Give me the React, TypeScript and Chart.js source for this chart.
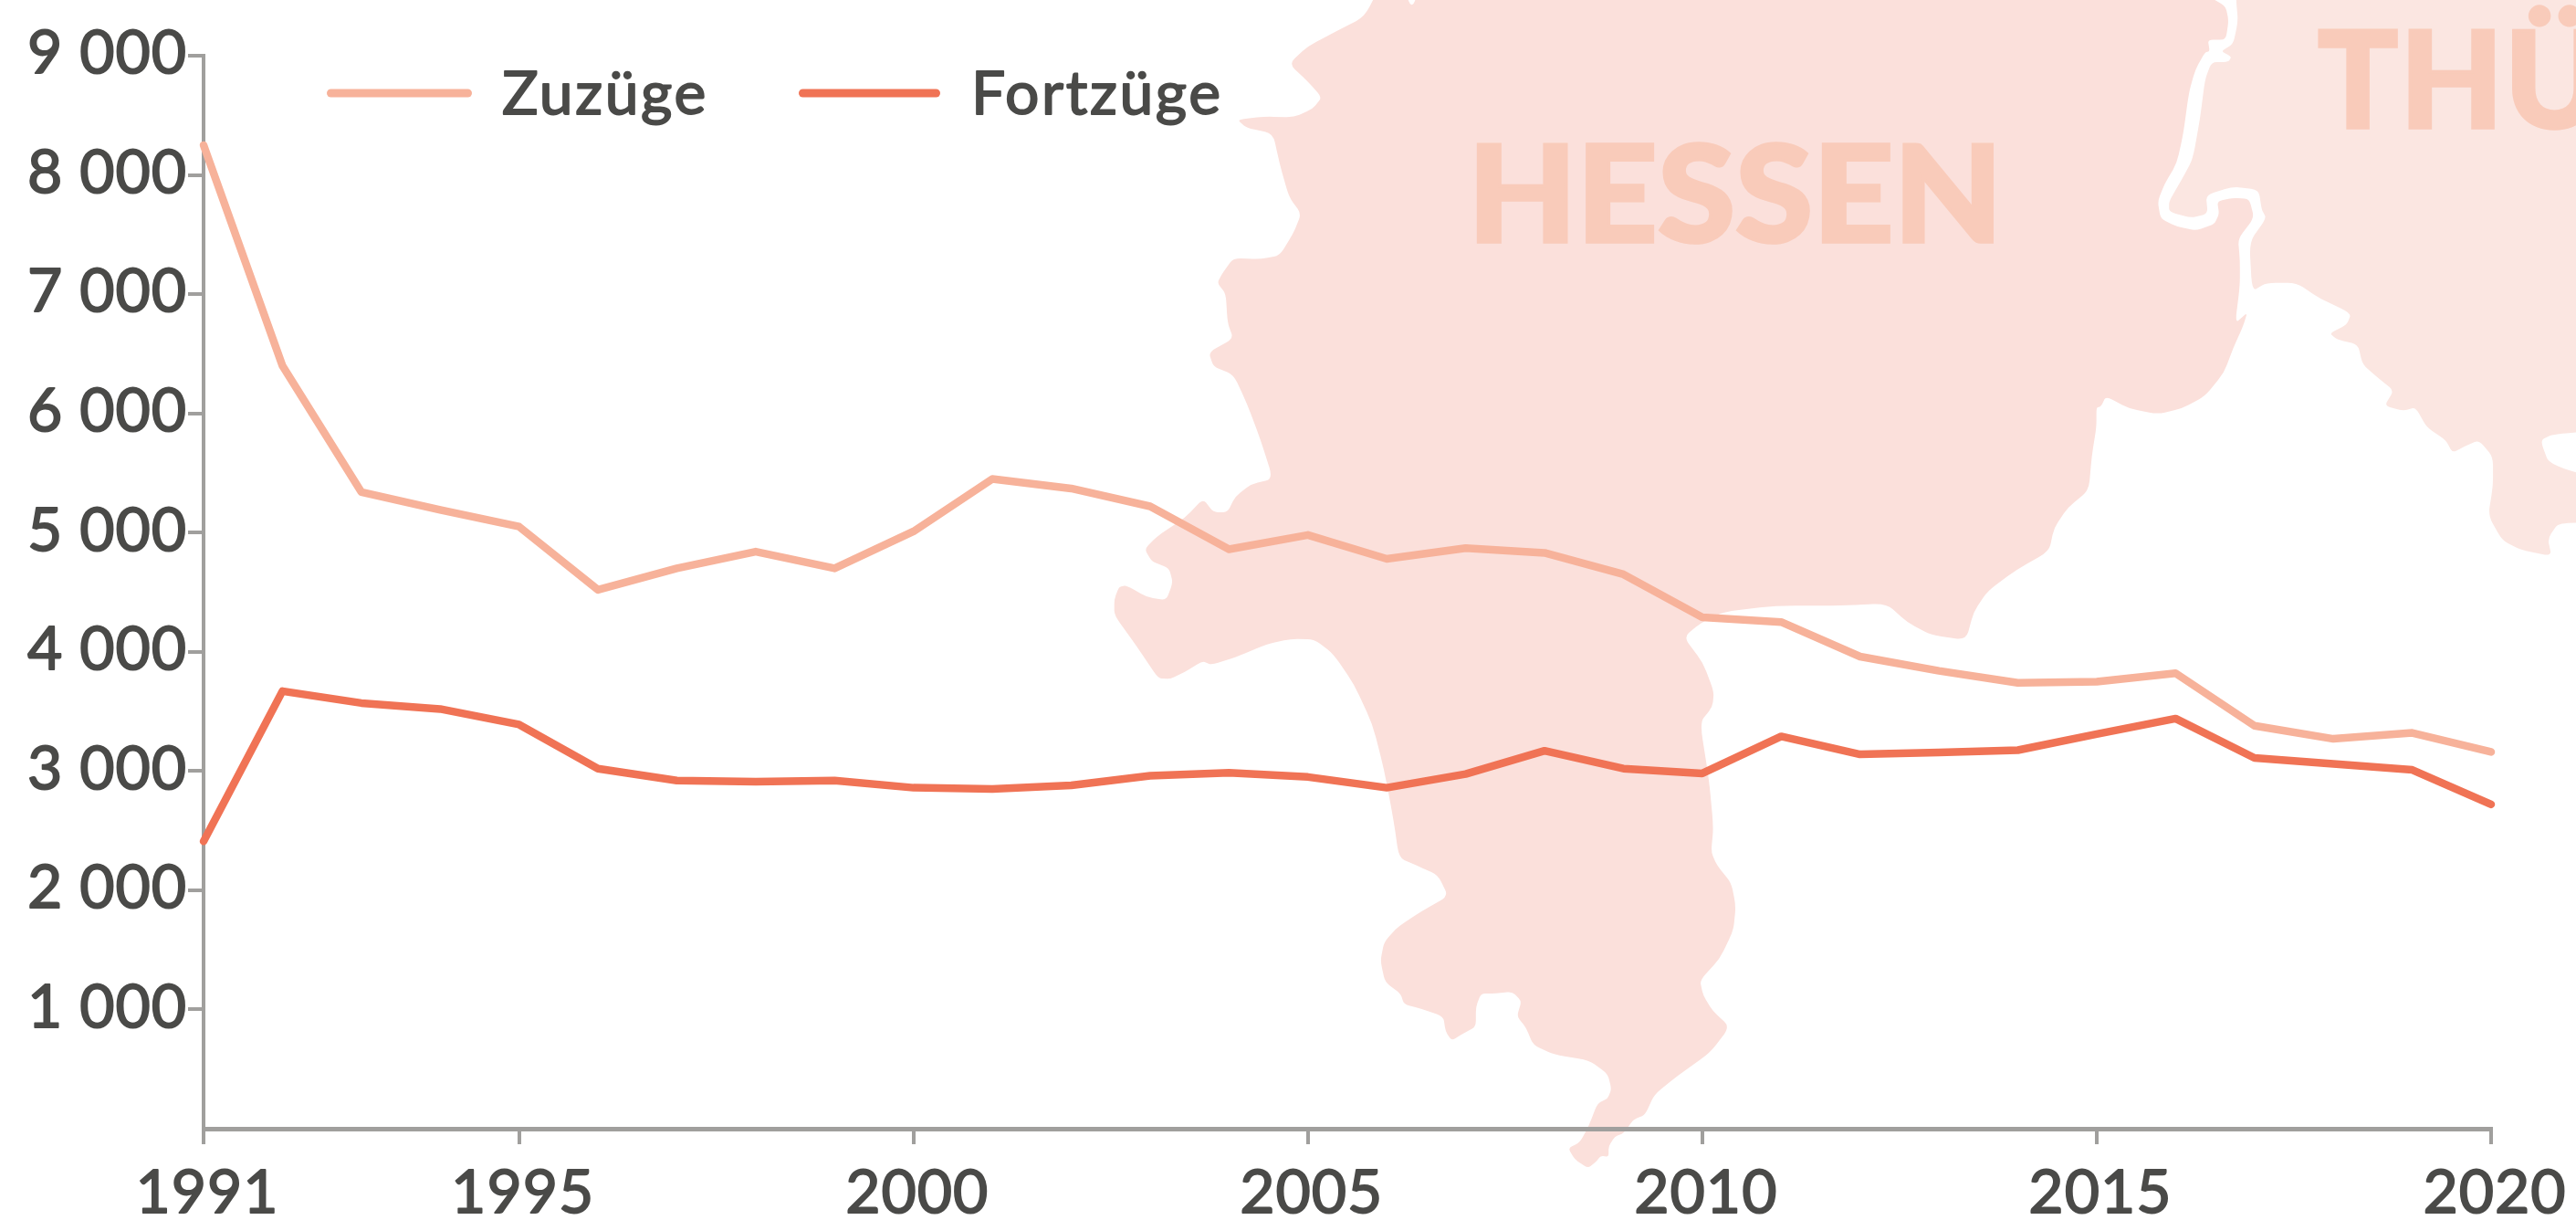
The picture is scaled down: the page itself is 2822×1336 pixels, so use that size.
import React, { useEffect, useRef } from "react";
import { Chart, registerables } from "chart.js";

Chart.register(...registerables);

const years = [1991,1992,1993,1994,1995,1996,1997,1998,1999,2000,2001,2002,2003,2004,2005,2006,2007,2008,2009,2010,2011,2012,2013,2014,2015,2016,2017,2018,2019,2020];
const zuzuege = [8250,6400,5340,5190,5050,4520,4700,4840,4700,5010,5450,5370,5220,4860,4980,4780,4870,4830,4650,4290,4250,3960,3840,3740,3750,3820,3380,3270,3320,3160];
const fortzuege = [2410,3670,3570,3520,3390,3020,2920,2910,2920,2860,2850,2880,2960,2985,2950,2860,2975,3170,3020,2980,3290,3140,3155,3175,3310,3440,3110,3060,3010,2720];
const xTicks = [1991,1995,2000,2005,2010,2015,2020];
const yTicks = [1000,2000,3000,4000,5000,6000,7000,8000,9000];
const seriesNames = ["Zuzüge", "Fortzüge"];

const TEXT = "#4a4a48";
const AXIS = "#a09f9d";
const FONT = "Lato, sans-serif";

// Background map (two tracing frames).
const a = (x: number, y: number): [number, number] => [1200 + x * 1.0345, y * 0.459];
const b = (x: number, y: number): [number, number] => [1200 + x / 1.96, 680 + y / 2.39];
const list = (f: typeof a, p: number[]) => {
  const o: [number, number][] = [];
  for (let i = 0; i < p.length; i += 2) o.push(f(p[i], p[i + 1]));
  return o;
};
const hessenA1 = [348,-60,335,24,322,-60,303,-40,285,40,255,75,225,110,205,152,225,195,240,232,230,260,210,280,180,278,150,285,160,305,188,318,195,390,205,470,218,510,210,555,195,610,175,618,146,616,135,650,129,675,138,700,140,770,146,808,120,840,125,875,146,893,160,960,175,1050,188,1143,165,1155,148,1185,140,1222,125,1222,114,1190,95,1235,65,1280,52,1310,60,1340,78,1355,82,1390,75,1432,55,1425,33,1397,25,1400,20,1430,20,1468,40,1530];
const hessenB = [105,96,135,150,160,152,190,135,230,105,250,115,300,95,370,60,420,47,470,48,510,85,555,165,595,270,620,390,640,520,652,620,690,640,735,665,758,720,700,760,650,800,620,840,612,890,622,945,655,975,663,1003,700,1015,747,1035,752,1075,765,1098,790,1080,817,1062,817,1010,828,975,860,975,895,970,915,995,905,1035,925,1065,940,1110,985,1135,1060,1150,1100,1185,1108,1225,1100,1250,1078,1263,1060,1320,1040,1365,1015,1380,1030,1410,1058,1432,1075,1415,1085,1400,1102,1402,1102,1375,1115,1350,1135,1340,1155,1305,1180,1293,1200,1240,1250,1190,1320,1130,1362,1062,1325,1020,1305,980,1298,940,1340,885,1370,810,1375,745,1365,685,1335,640,1322,605,1327,540,1318,420,1298,265,1325,225,1328,185,1305,110,1263,42,1300,5];
const hessenA2 = [665,1460,720,1445,790,1445,838,1440,860,1485,885,1515,922,1527,930,1460,945,1410,975,1360,1010,1315,1015,1260,1030,1210,1052,1170,1055,1090,1060,1020,1060,972,1065,970,1070,945,1095,975,1125,988,1150,975,1175,945,1195,890,1205,830,1215,780,1220,745,1207,772,1212,680,1212,620,1210,570,1227,520,1222,475,1205,472,1188,480,1190,510,1185,535,1165,550,1145,540,1128,522,1125,480,1132,440,1145,390,1152,320,1158,220,1165,165,1175,125,1180,122,1178,95,1197,95,1200,50,1197,15,1178,-10,1178,-80];
const thueringen = [1208,-80,1208,0,1210,50,1205,105,1192,122,1203,135,1200,148,1182,148,1175,190,1170,280,1162,380,1150,430,1137,480,1137,505,1160,520,1178,510,1176,465,1205,445,1232,453,1235,500,1240,520,1222,578,1225,695,1240,675,1272,675,1295,710,1330,748,1325,775,1307,795,1315,810,1337,822,1342,870,1360,905,1375,932,1365,968,1385,980,1398,972,1410,1020,1430,1050,1437,1080,1450,1065,1465,1050,1480,1090,1480,1160,1475,1230,1490,1290,1510,1312,1542,1327,1538,1285,1550,1245,1640,1255,1640,1170,1540,1110,1530,1050,1545,1035,1640,1020,1640,-80];

const smooth = (pts: [number, number][], k = 0.3) => {
  const n = pts.length;
  const lerp = (p: [number, number], q: [number, number], t: number) => `${(p[0] + (q[0] - p[0]) * t).toFixed(1)} ${(p[1] + (q[1] - p[1]) * t).toFixed(1)}`;
  let d = `M${lerp(pts[0], pts[n - 1], k)}`;
  for (let i = 0; i < n; i++) {
    const prev = pts[(i + n - 1) % n];
    const next = pts[(i + 1) % n];
    d += ` L${lerp(pts[i], prev, k)} Q${pts[i][0].toFixed(1)} ${pts[i][1].toFixed(1)} ${lerp(pts[i], next, k)}`;
  }
  return d + "Z";
};
const hessenPath = smooth([...list(a, hessenA1), ...list(b, hessenB), ...list(a, hessenA2)]);
const thuePath = smooth(list(a, thueringen));

const legendPlugin = {
  id: "lineLegend",
  beforeDraw(chart: any) {
    const c = chart.ctx;
    c.letterSpacing = "1px";
    c.lineJoin = "round";
  },
  afterDraw(chart: any) {
    const c = chart.ctx;
    const items = [
      { x0: 358, x1: 517, tx: 550 },
      { x0: 875, x1: 1030, tx: 1064 },
    ];
    c.save();
    items.forEach((it, i) => {
      const ds = chart.data.datasets[i];
      c.strokeStyle = ds.borderColor;
      c.lineWidth = 9;
      c.lineCap = "round";
      c.beginPath();
      c.moveTo(it.x0 + 4.5, 102);
      c.lineTo(it.x1 - 4.5, 102);
      c.stroke();
      c.fillStyle = TEXT;
      c.strokeStyle = TEXT;
      c.lineWidth = 1.8;
      c.letterSpacing = "2.6px";
      c.font = `400 66px ${FONT}`;
      c.textBaseline = "alphabetic";
      c.fillText(ds.label, it.tx, 125);
      c.strokeText(ds.label, it.tx, 125);
    });
    c.restore();
  },
};

export default function App() {
  const ref = useRef<HTMLCanvasElement>(null);
  useEffect(() => {
    const chart = new Chart(ref.current!, {
      type: "line",
      data: {
        datasets: [
          { label: seriesNames[0], data: years.map((y, i) => ({ x: y, y: zuzuege[i] })), borderColor: "#f7b29a", borderWidth: 8.5, pointRadius: 0, tension: 0, clip: false, borderJoinStyle: "round", borderCapStyle: "round" },
          { label: seriesNames[1], data: years.map((y, i) => ({ x: y, y: fortzuege[i] })), borderColor: "#f07355", borderWidth: 8.5, pointRadius: 0, tension: 0, clip: false, borderJoinStyle: "round", borderCapStyle: "round" },
        ],
      },
      options: {
        animation: false,
        responsive: false,
        maintainAspectRatio: false,
        layout: { padding: { top: 61, right: 93, left: 0, bottom: 0 } },
        plugins: { legend: { display: false }, tooltip: { enabled: false }, title: { display: false } },
        scales: {
          x: {
            type: "linear",
            min: 1991,
            max: 2020,
            afterBuildTicks: (s: any) => { s.ticks = xTicks.map((v) => ({ value: v })); },
            afterFit: (s: any) => { s.height = 100; },
            border: { color: AXIS, width: 5 },
            grid: { drawOnChartArea: false, color: AXIS, lineWidth: 4, tickLength: 17, tickColor: AXIS, tickWidth: 4 },
            ticks: { color: TEXT, font: { family: FONT, size: 66, weight: 400 }, textStrokeColor: TEXT, textStrokeWidth: 1.8, padding: 14, labelOffset: 4, maxRotation: 0, autoSkip: false, callback: (v: any) => String(v) },
          },
          y: {
            min: 0,
            max: 9000,
            afterBuildTicks: (s: any) => { s.ticks = yTicks.map((v) => ({ value: v })); },
            afterFit: (s: any) => { s.width = 223; },
            border: { color: AXIS, width: 4 },
            grid: { drawOnChartArea: false, color: AXIS, lineWidth: 4, tickLength: 17, tickColor: AXIS, tickWidth: 4 },
            ticks: { color: TEXT, font: { family: FONT, size: 66, weight: 400 }, textStrokeColor: TEXT, textStrokeWidth: 1.8, padding: 1, labelOffset: -2, autoSkip: false, callback: (v: any) => `${v / 1000} 000` },
          },
        },
      },
      plugins: [legendPlugin],
    } as any);
    return () => chart.destroy();
  }, []);

  return (
    <div style={{ position: "absolute", left: 0, top: 0, width: 2822, height: 1336, overflow: "hidden", background: "#fff" }}>
      <svg width={2822} height={1336} style={{ position: "absolute", left: 0, top: 0 }}>
        <path d={thuePath} fill="#fbe6e1" />
        <path d={hessenPath} fill="#fbe0db" />
        <text x={1608} y={265} fontFamily="Lato, sans-serif" fontWeight={900} fontSize={146} fill="#f9cbba" stroke="#f9cbba" strokeWidth={3.5} textLength={586} lengthAdjust="spacingAndGlyphs">HESSEN</text>
        <text x={2539} y={140} fontFamily="Lato, sans-serif" fontWeight={900} fontSize={146} fill="#f9cbba" stroke="#f9cbba" strokeWidth={3.5} letterSpacing={2}>THÜRINGEN</text>
      </svg>
      <canvas ref={ref} width={2822} height={1336} style={{ position: "absolute", left: 0, top: 0, display: "block" }} />
    </div>
  );
}
